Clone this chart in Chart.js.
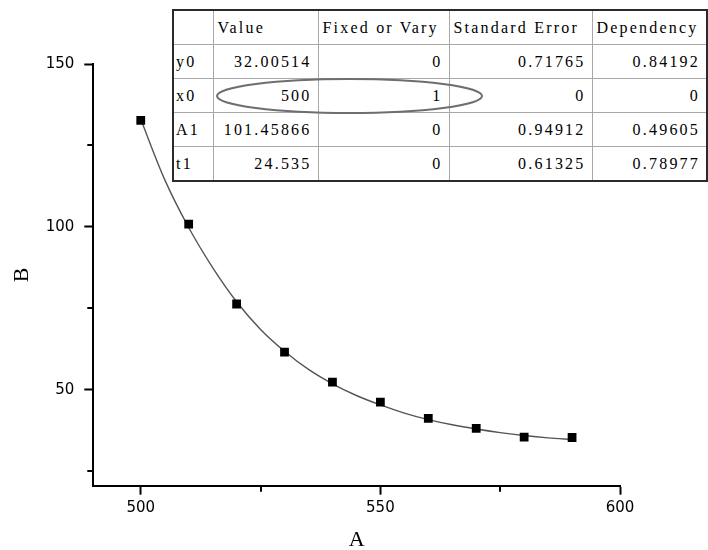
<!DOCTYPE html>
<html>
<head>
<meta charset="utf-8">
<script src="https://cdn.jsdelivr.net/npm/chart.js@4/dist/chart.umd.min.js"></script>
<style>
  html, body { margin:0; padding:0; background:#fff; }
  #wrap { position:relative; width:708px; height:550px; }
  #c { position:absolute; left:0; top:0; }
  #tbl { position:absolute; left:172px; top:9px; border-collapse:collapse; border:2px solid #2a2a2a; background:#fff;
         font-family:'Liberation Serif', 'Times New Roman', serif; font-size:16px; letter-spacing:2.2px; color:#000; table-layout:fixed; }
  #tbl td { border:1px solid #a8a8a8; padding:0 6px 0 3px; height:33px; white-space:nowrap; overflow:hidden; }
  #tbl tr:first-child td { height:34px; }
  #tbl td.num { text-align:right; padding-right:6px; }
  #tbl td.hdr { text-align:left; padding-left:4px; }
  #tbl td.lab { text-align:left; padding-left:2px; }
  #ov { position:absolute; left:0; top:0; pointer-events:none; }
</style>
</head>
<body>
<div id="wrap">
  <canvas id="c" width="708" height="550"></canvas>
  <table id="tbl"></table>
  <svg id="ov" width="708" height="550"><ellipse cx="349.5" cy="96" rx="132.5" ry="17" fill="none" stroke="#6e6e6e" stroke-width="2"/></svg>
</div>
<script>
// ---- data ----
const xValues = [500, 510, 520, 530, 540, 550, 560, 570, 580, 590];
const yValues = [132.7, 100.8, 76.3, 61.5, 52.3, 46.2, 41.2, 38.1, 35.4, 35.3];
const curveX = [500, 505, 510, 515, 520, 525, 530, 535, 540, 545, 550, 555, 560, 565, 570, 575, 580, 585, 590];
const curveY = [133.0, 114.5, 99.8, 87.5, 77.0, 68.5, 61.8, 56.2, 51.8, 48.2, 45.3, 42.8, 40.8, 39.2, 37.9, 36.8, 35.9, 35.2, 34.7];
const xTickLabels = ['500', '550', '600'];
const yTickLabels = ['50', '100', '150'];
const tableHeaders = ['', 'Value', 'Fixed or Vary', 'Standard Error', 'Dependency'];
const paramNames = ['y0', 'x0', 'A1', 't1'];
const paramValues = ['32.00514', '500', '101.45866', '24.535'];
const paramFixed = ['0', '1', '0', '0'];
const paramStdErr = ['0.71765', '0', '0.94912', '0.61325'];
const paramDep = ['0.84192', '0', '0.49605', '0.78977'];
const xMinorTicks = [525, 575];
const yMinorTicks = [25, 75, 125];

// ---- table ----
const colW = [40, 105, 131, 143, 115];
const tbl = document.getElementById('tbl');
const cg = document.createElement('colgroup');
colW.forEach(w => { const c = document.createElement('col'); c.style.width = w + 'px'; cg.appendChild(c); });
tbl.appendChild(cg);
let tr = document.createElement('tr');
tableHeaders.forEach(h => { const td = document.createElement('td'); td.className = 'hdr'; td.textContent = h; tr.appendChild(td); });
tbl.appendChild(tr);
paramNames.forEach((n, i) => {
  const r = document.createElement('tr');
  const cells = [n, paramValues[i], paramFixed[i], paramStdErr[i], paramDep[i]];
  cells.forEach((v, j) => { const td = document.createElement('td'); td.className = j === 0 ? 'lab' : 'num'; td.textContent = v; r.appendChild(td); });
  tbl.appendChild(r);
});

// ---- chart ----
const minorTicks = {
  id: 'minorTicks',
  afterDraw(chart) {
    const ctx = chart.ctx, xs = chart.scales.x, ys = chart.scales.y;
    ctx.save();
    ctx.strokeStyle = '#000'; ctx.lineWidth = 2;
    ctx.beginPath();
    yMinorTicks.forEach(v => { const p = Math.round(ys.getPixelForValue(v)); ctx.moveTo(xs.left - 6, p); ctx.lineTo(xs.left, p); });
    xMinorTicks.forEach(v => { const p = Math.round(xs.getPixelForValue(v)); ctx.moveTo(p, ys.bottom); ctx.lineTo(p, ys.bottom + 6); });
    ctx.stroke();
    ctx.restore();
  }
};
const whiteBg = {
  id: 'whiteBg',
  beforeDraw(chart) { const ctx = chart.ctx; ctx.save(); ctx.fillStyle = '#fff'; ctx.fillRect(0, 0, chart.width, chart.height); ctx.restore(); }
};

new Chart(document.getElementById('c'), {
  type: 'scatter',
  data: {
    datasets: [
      {
        type: 'scatter',
        data: xValues.map((x, i) => ({ x, y: yValues[i] })),
        pointStyle: 'rect', pointRadius: 6.2, backgroundColor: '#000', borderColor: '#000', borderWidth: 0,
        order: 0
      },
      {
        type: 'line',
        data: curveX.map((x, i) => ({ x, y: curveY[i] })),
        borderColor: '#555', borderWidth: 1.4, pointRadius: 0, fill: false,
        cubicInterpolationMode: 'monotone', order: 1
      }
    ]
  },
  options: {
    responsive: false, animation: false, devicePixelRatio: 1,
    layout: { padding: { top: 64, right: 88, left: 0, bottom: 0 } },
    plugins: { legend: { display: false }, tooltip: { enabled: false } },
    scales: {
      x: {
        type: 'linear', min: 490.1, max: 600,
        ticks: { stepSize: 50, includeBounds: false, color: '#000', padding: 4,
                 font: { family: 'DejaVu Sans', size: 15 },
                 callback: (v) => xTickLabels.includes(String(v)) ? String(v) : '' },
        grid: { drawOnChartArea: false, drawTicks: true, tickLength: 9, color: '#000', tickWidth: 2 },
        border: { display: true, color: '#000', width: 2 },
        title: { display: true, text: 'A', color: '#000', font: { family: 'Liberation Serif', size: 22, lineHeight: 1 }, padding: { top: 0, bottom: -1 } },
        afterFit(s) { s.height = 64.3; }
      },
      y: {
        type: 'linear', min: 20.5, max: 150,
        ticks: { stepSize: 50, includeBounds: false, color: '#000', padding: 10,
                 font: { family: 'DejaVu Sans', size: 15 },
                 callback: (v) => yTickLabels.includes(String(v)) ? String(v) : '' },
        grid: { drawOnChartArea: false, drawTicks: true, tickLength: 9, color: '#000', tickWidth: 2 },
        border: { display: true, color: '#000', width: 2 },
        title: { display: true, text: 'B', color: '#000', font: { family: 'Liberation Serif', size: 22, lineHeight: 1 }, padding: { top: 11, bottom: 0 } },
        afterFit(s) { s.width = 93.3; }
      }
    }
  },
  plugins: [whiteBg, minorTicks]
});
</script>
</body>
</html>
